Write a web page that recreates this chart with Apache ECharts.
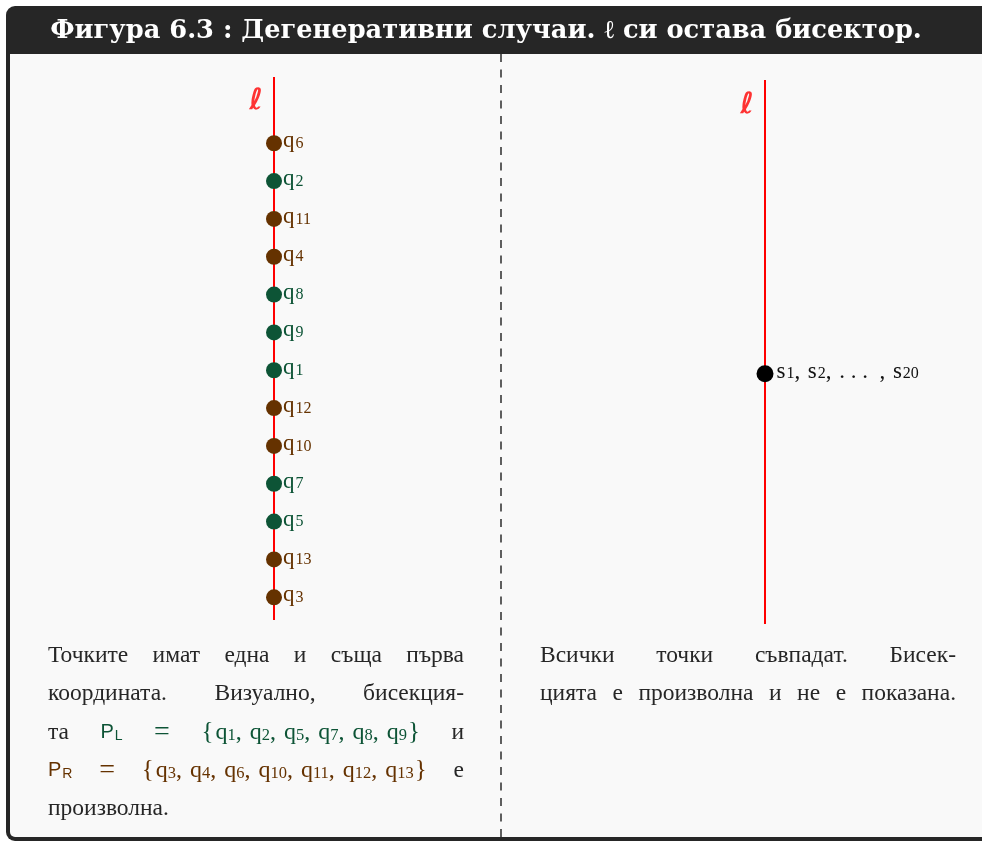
<!DOCTYPE html>
<html><head><meta charset="utf-8">
<script src="https://cdn.jsdelivr.net/npm/echarts@6/dist/echarts.min.js"></script>
<style>html,body{margin:0;padding:0;background:#fff;overflow:hidden;}#c{width:982px;height:841px;}</style>
</head><body><div id="c"></div>
<script>
// ---------- data ----------
const titleText = 'Фигура 6.3 : Дегенеративни случаи. ℓ си остава бисектор.';
const leftOrder = [6, 2, 11, 4, 8, 9, 1, 12, 10, 7, 5, 13, 3];      // top to bottom
const leftPos   = [13, 12, 11, 10, 9, 8, 7, 6, 5, 4, 3, 2, 1];       // position on line ℓ
const setL = [1, 2, 5, 7, 8, 9];
const setR = [3, 4, 6, 10, 11, 12, 13];
const leftLineSpan = [0.4, 14.75];
const rightLineSpan = [0, 1];
const rightPointPos = 0.46;
const rightCount = 20;
const lineName = 'ℓ';
const leftWordsA = ['Точките', 'имат', 'една', 'и', 'съща', 'първа'];
const leftWordsB = ['координата.', 'Визуално,', 'бисекция-'];
const leftWordsC1 = ['та'];
const leftWordsC2 = ['и'];
const leftWordsD2 = ['е'];
const leftWordsE = ['произволна.'];
const rightWordsA = ['Всички', 'точки', 'съвпадат.', 'Бисек-'];
const rightWordsB = ['цията', 'е', 'произволна', 'и', 'не', 'е', 'показана.'];

// ---------- styles ----------
const GREEN = '#0d5436', BROWN = '#653200', RED = '#ff0000', INK = '#262626';
const SERIF = 'Liberation Serif', SANS = 'Liberation Sans';
const ctx = document.createElement('canvas').getContext('2d');
function tw(t, st) {
  ctx.font = `${st.fontStyle || 'normal'} ${st.fontWeight || 'normal'} ${st.fontSize}px "${st.fontFamily}"`;
  return ctx.measureText(t).width;
}
const BODY = 121 / tw('произволна.', {fontSize: 100, fontFamily: SERIF}) * 100;
const TITLE = 872 / tw(titleText, {fontSize: 100, fontFamily: 'DejaVu Serif', fontWeight: 'bold'}) * 100;

function mathStyles(c, p) {
  return {
    [p + 'q']: {fontFamily: SERIF, fontSize: 24, fill: c},
    [p + 'b']: {fontFamily: SERIF, fontSize: 25, fill: c, dy: 0},
    [p + 'e']: {fontFamily: SERIF, fontSize: 28, fill: c},
    [p + 's']: {fontFamily: SERIF, fontSize: 16.5, fill: c, dy: 3},
    [p + 'P']: {fontFamily: SANS, fontSize: 20, fill: c},
    [p + 'Ps']: {fontFamily: SANS, fontSize: 14, fill: c, dy: 4}
  };
}
const ST = Object.assign({n: {fontFamily: SERIF, fontSize: BODY, fill: INK}},
  mathStyles(GREEN, 'g'), mathStyles(BROWN, 'b'));
const SEP_GAP = 8;

function setWord(arr, p) {
  const segs = [[p + 'b', '{'], ['_', 2]];
  arr.forEach((k, i) => {
    segs.push([p + 'q', 'q'], [p + 's', String(k)]);
    if (i < arr.length - 1) segs.push([p + 'q', ','], ['_', SEP_GAP]);
  });
  segs.push(['_', 1], [p + 'b', '}']);
  return segs;
}
const segW = ([k, t]) => k === '_' ? t : tw(t, ST[k]);
const plain = ws => ws.map(w => [['n', w]]);
const leftLines = [
  {words: plain(leftWordsA), justify: true},
  {words: plain(leftWordsB), justify: true},
  {words: [...plain(leftWordsC1), [['gP', 'P'], ['_', 1], ['gPs', 'L']], [['ge', '=']], setWord(setL, 'g'), ...plain(leftWordsC2)], justify: true},
  {words: [[['bP', 'P'], ['_', 1], ['bPs', 'R']], [['be', '=']], setWord(setR, 'b'), ...plain(leftWordsD2)], justify: true},
  {words: plain(leftWordsE), justify: false}
];
const rightLines = [
  {words: plain(rightWordsA), justify: true},
  {words: plain(rightWordsB), justify: true}
];

function layoutPara(lines, x0, x1, yTop, step, out) {
  lines.forEach((ln, li) => {
    const yc = yTop + li * step;
    const widths = ln.words.map(segs => segs.reduce((a, s) => a + segW(s), 0));
    const total = widths.reduce((a, b) => a + b, 0);
    const gap = (ln.justify && ln.words.length > 1) ? (x1 - x0 - total) / (ln.words.length - 1) : tw(' ', ST.n);
    let x = x0;
    ln.words.forEach(segs => {
      segs.forEach(s => {
        const [k, t] = s;
        if (k !== '_') {
          const st = ST[k];
          out.push({type: 'text', x: x, y: yc + (st.dy || 0), z: 50,
            style: {text: t, fill: st.fill, fontSize: st.fontSize, fontFamily: st.fontFamily,
              align: 'left', verticalAlign: 'middle'}});
        }
        x += segW(s);
      });
      x += gap;
    });
  });
}

const graphics = [
  {type: 'rect', z: -20, shape: {x: 6, y: 6, width: 1000, height: 835, r: [9, 0, 0, 9]}, style: {fill: '#262626'}},
  {type: 'rect', z: -19, shape: {x: 10, y: 54, width: 990, height: 783, r: [0, 0, 0, 5]}, style: {fill: '#f9f9f9'}},
  {type: 'line', z: -18, shape: {x1: 501, y1: 54, x2: 501, y2: 841}, style: {stroke: '#1e1e1e', lineWidth: 1.4, lineDash: [8, 7.5]}},
  {type: 'text', x: 486, y: 31, z: 60, style: {text: titleText, fill: '#ffffff', fontSize: TITLE, fontFamily: 'DejaVu Serif', fontWeight: 'bold', align: 'center', verticalAlign: 'middle'}}
];
layoutPara(leftLines, 48, 464, 656, 38.2, graphics);
layoutPara(rightLines, 540, 956, 656, 38.2, graphics);

const qRich = c => ({
  q: {fontFamily: SERIF, fontSize: 23, color: c},
  s: {fontFamily: SERIF, fontSize: 16, color: c, padding: [5, 0, 0, 1]}
});

const leftPoints = leftOrder.map((k, i) => {
  const c = setL.includes(k) ? GREEN : BROWN;
  return {
    value: [0, leftPos[i]],
    itemStyle: {color: c, opacity: 1},
    label: {show: true, position: 'right', distance: 1, offset: [0, -2], formatter: `{q|q}{s|${k}}`, rich: qRich(c)}
  };
});

const ellLabel = {show: true, position: 'inside', formatter: lineName, color: RED,
  fontFamily: 'DejaVu Sans', fontWeight: 'bold', fontSize: 29};

const option = {
  animation: false,
  graphic: graphics,
  grid: [
    {left: 174, width: 200, top: 77, height: 543},
    {left: 665, width: 200, top: 80, height: 544}
  ],
  xAxis: [
    {gridIndex: 0, type: 'value', min: -1, max: 1, show: false},
    {gridIndex: 1, type: 'value', min: -1, max: 1, show: false}
  ],
  yAxis: [
    {gridIndex: 0, type: 'value', min: leftLineSpan[0], max: leftLineSpan[1], show: false},
    {gridIndex: 1, type: 'value', min: rightLineSpan[0], max: rightLineSpan[1], show: false}
  ],
  series: [
    {type: 'line', xAxisIndex: 0, yAxisIndex: 0, data: [[0, leftLineSpan[0]], [0, leftLineSpan[1]]],
      showSymbol: false, symbol: 'none', silent: true, z: 1, lineStyle: {color: RED, width: 2}},
    {type: 'line', xAxisIndex: 1, yAxisIndex: 1, data: [[0, rightLineSpan[0]], [0, rightLineSpan[1]]],
      showSymbol: false, symbol: 'none', silent: true, z: 1, lineStyle: {color: RED, width: 2}},
    {type: 'scatter', xAxisIndex: 0, yAxisIndex: 0, symbolSize: 0, silent: true, z: 3,
      data: [{value: [0, leftLineSpan[1]], label: Object.assign({offset: [-18, 24]}, ellLabel)}]},
    {type: 'scatter', xAxisIndex: 1, yAxisIndex: 1, symbolSize: 0, silent: true, z: 3,
      data: [{value: [0, rightLineSpan[1]], label: Object.assign({offset: [-18, 25]}, ellLabel)}]},
    {type: 'scatter', xAxisIndex: 0, yAxisIndex: 0, symbolSize: 16, silent: true, z: 5, data: leftPoints},
    {type: 'scatter', xAxisIndex: 1, yAxisIndex: 1, symbolSize: 17, silent: true, z: 5,
      data: [{value: [0, rightPointPos], itemStyle: {color: '#000', opacity: 1},
        label: {show: true, position: 'right', distance: 3, offset: [0, -2],
          formatter: `{q|s}{s|1}{q|, \u200A}{q|s}{s|2}{q|, \u200A. . .  , \u200A}{q|s}{s|${rightCount}}`,
          rich: qRich('#111')}}]}
  ]
};
const chart = echarts.init(document.getElementById('c'));
chart.setOption(option);
</script>
</body></html>
